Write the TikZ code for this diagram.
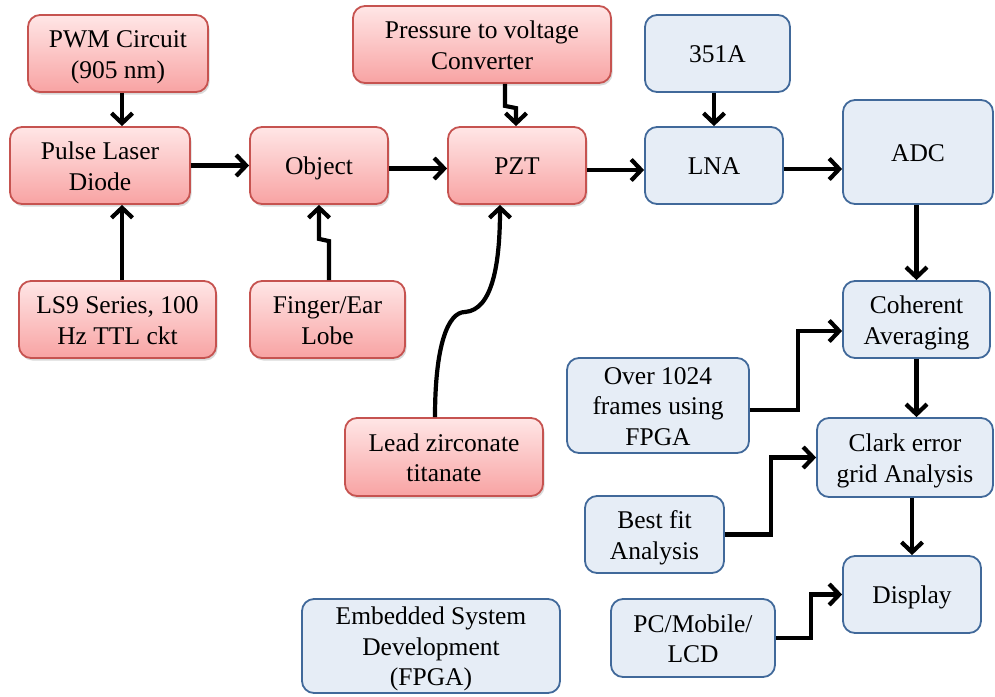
\documentclass[tikz,border=0pt]{standalone}
\usepackage{fontspec}
\setmainfont{Liberation Serif}
\usetikzlibrary{arrows.meta,shadows,calc}
\definecolor{redline}{HTML}{C65350}
\definecolor{redtop}{HTML}{FFE6E6}
\definecolor{redbot}{HTML}{F8A3A3}
\definecolor{blueline}{HTML}{41699A}
\definecolor{bluefill}{HTML}{E6EDF6}
% struts that fix the height of the first line and the depth of the last line
\newcommand\boxtop{\rule{0pt}{24.5pt}}
\newcommand\boxbot{\rule[-6pt]{0pt}{6pt}}
\tikzset{
  box/.style={rounded corners=12pt, line width=1.8pt, align=center, inner sep=0pt,
              font=\fontsize{25.5}{30.5}\selectfont},
  redbox/.style={box, draw=redline, top color=redtop, bottom color=redbot,
                 drop shadow={shadow xshift=1.5pt, shadow yshift=-2.5pt, opacity=0.3}},
  bluebox/.style={box, draw=blueline, fill=bluefill},
  arr/.style={line width=4.2pt, -{Straight Barb[length=10pt,width=21pt]}},
}
\begin{document}
\begin{tikzpicture}[x=1pt, y=-1pt]
\useasboundingbox (0,0) rectangle (995,696);

% red blocks: optical / sensing path
\node[redbox, minimum width=180pt, minimum height=77pt] (pwm) at (118,53.5) {\boxtop PWM Circuit\\(905 nm)\boxbot};
\node[redbox, minimum width=180pt, minimum height=77pt] (pld) at (100,165.5) {\boxtop Pulse Laser\\Diode\boxbot};
\node[redbox, minimum width=138pt, minimum height=77pt] (obj) at (319,165.5) {\boxtop Object\boxbot};
\node[redbox, minimum width=138pt, minimum height=77pt] (pzt) at (517,165.5) {\boxtop PZT\boxbot};
\node[redbox, minimum width=258pt, minimum height=77pt] (ptv) at (482,44.5) {\boxtop Pressure to voltage\\Converter\boxbot};
\node[redbox, minimum width=197pt, minimum height=77pt] (ls9) at (117.5,319.5) {\boxtop LS9 Series, 100\\Hz TTL ckt\boxbot};
\node[redbox, minimum width=155pt, minimum height=77pt] (fin) at (327.5,319.5) {\boxtop Finger/Ear\\Lobe\boxbot};
\node[redbox, minimum width=198pt, minimum height=78pt] (lead) at (444,457) {\boxtop Lead zirconate\\titanate\boxbot};

% blue blocks: signal processing
\node[bluebox, minimum width=145pt, minimum height=77pt] (a351) at (717.5,53.5) {\boxtop 351A\boxbot};
\node[bluebox, minimum width=138pt, minimum height=77pt] (lna) at (714,165.5) {\boxtop LNA\boxbot};
\node[bluebox, minimum width=150pt, minimum height=104pt] (adc) at (918,152) {\boxtop ADC\boxbot};
\node[bluebox, minimum width=147pt, minimum height=77pt] (coh) at (916.5,319.5) {\boxtop Coherent\\Averaging\boxbot};
\node[bluebox, minimum width=182pt, minimum height=95pt] (over) at (658,405.5) {\boxtop Over 1024\\frames using\\FPGA\boxbot};
\node[bluebox, minimum width=176pt, minimum height=79pt] (clark) at (905,457.5) {\boxtop Clark error\\grid Analysis\boxbot};
\node[bluebox, minimum width=139pt, minimum height=77pt] (best) at (654.5,534.5) {\boxtop Best fit\\Analysis\boxbot};
\node[bluebox, minimum width=138pt, minimum height=77pt] (disp) at (912,594.5) {\boxtop Display\boxbot};
\node[bluebox, minimum width=164pt, minimum height=78pt] (pc) at (693,638) {\boxtop PC/Mobile/\\LCD\boxbot};
\node[bluebox, minimum width=258pt, minimum height=94pt] (emb) at (431,646) {\boxtop Embedded System\\Development\\(FPGA)\boxbot};

% connectors
\draw[arr] ($(pwm.south)+(4,0)$) -- ($(pwm.south |- pld.north)+(4,0)$);
\draw[arr] ($(ls9.north)+(4.5,0)$) -- ($(ls9.north |- pld.south)+(4.5,0)$);
\draw[arr] (pld.east) -- (obj.west);
\draw[arr] ($(obj.east)+(0,3)$) -- ($(pzt.west)+(0,3)$);
\draw[arr] ($(fin.north)+(1.5,0)$) -- ++(0,-39) -- ($(obj.south)+(0,34)$) -- (obj.south);
\draw[arr] ($(ptv.south)+(23,0)$) -- ++(0,22) -- ($(pzt.north)+(-1,-18)$) -- ($(pzt.north)+(-1,0)$);
\draw[arr] ($(lead.north)+(-9,0)$) .. controls (435,345) and (448,312) .. (465,312)
           .. controls (493,310) and (500,262) .. ($(pzt.south)+(-17,0)$);
\draw[arr] ($(pzt.east)+(0,4.5)$) -- ($(lna.west)+(0,4.5)$);
\draw[arr] ($(a351.south)+(-3.5,0)$) -- ($(a351.south |- lna.north)+(-3.5,0)$);
\draw[arr] ($(lna.east)+(0,3.5)$) -- ($(lna.east -| adc.west)+(0,3.5)$);
\draw[arr] (adc.south -| coh.north) -- (coh.north);
\draw[arr] (coh.south) -- (coh.south |- clark.north);
\draw[arr] ($(over.east)+(0,4.5)$) -- ++(48,0) |- ($(coh.west)+(0,11.5)$);
\draw[arr] (best.east) -- ++(46,0) |- (clark.west);
\draw[arr] (pc.east) -- ++(35,0) |- (disp.west);
\draw[arr] (disp.north |- clark.south) -- (disp.north);
\end{tikzpicture}
\end{document}
